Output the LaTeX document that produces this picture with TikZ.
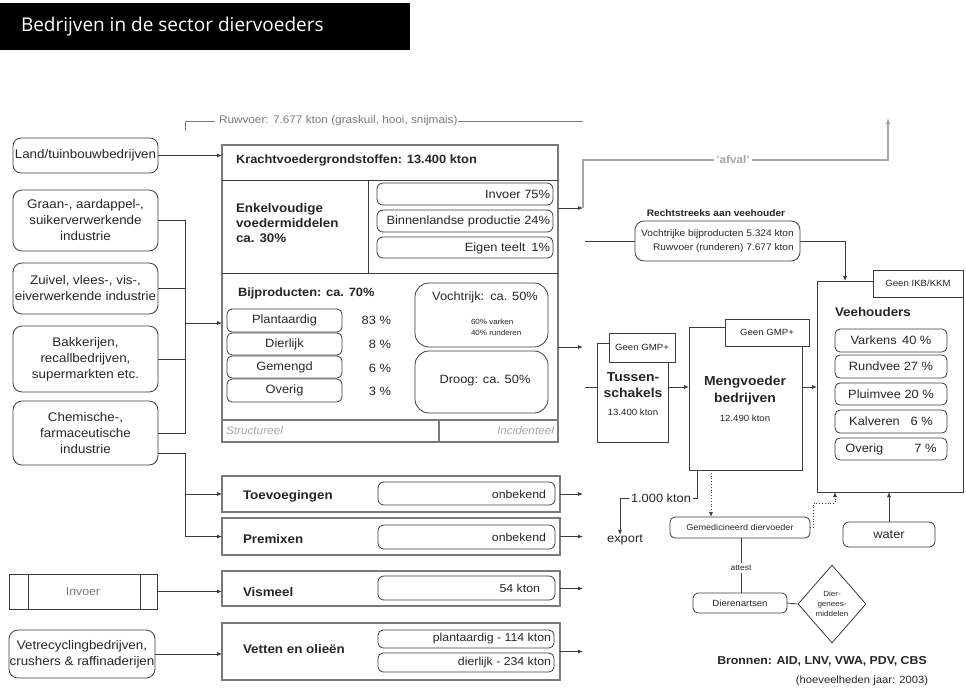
\documentclass[tikz,border=0pt]{standalone}
\usepackage{fontspec}
\setmainfont{Liberation Sans}[FakeStretch=1.07]
\newfontfamily\titlefont{Open Sans}
\usetikzlibrary{arrows.meta,shapes.geometric}
\newcommand\fs[2]{\fontsize{#1}{#2}\selectfont}
\newcommand\placebox[7]{\node[#2, minimum width={#5-#3}, minimum height={#6-#4}] (#1) at ({(#3+#5)/2},{(#4+#6)/2}) {#7};}
\definecolor{ln}{HTML}{3C3C3C}
\definecolor{tx}{HTML}{262626}
\definecolor{lg}{HTML}{A6A6A6}
\definecolor{mg}{HTML}{7A7A7A}
\begin{document}
\begin{tikzpicture}[x=1pt,y=-1pt,
  box/.style={draw=ln, line width=0.8pt, inner sep=0pt, outer sep=0pt, text=tx},
  rbox/.style={box, rounded corners=#1},
  rbox/.default=6pt,
  frame/.style={draw=mg, line width=1.4pt, inner sep=0pt, outer sep=0pt},
  lbl/.style={inner sep=0pt, outer sep=0pt, text=tx},
  con/.style={draw=ln, line width=0.8pt},
  arr/.style={con, -{Latex[length=5pt,width=4pt]}},
  lefttxt/.style={font=\fs{12.5}{16}, align=center},
]
\useasboundingbox (0,0) rectangle (966,689);
% title bar
\fill[black] (0,3) rectangle (410,50);
\node[lbl, text=white, anchor=west, font=\titlefont\fs{19}{22}] (title) at (21,27) {Bedrijven in de sector diervoeders};

% left column
\placebox{land}{rbox=8pt, lefttxt}{13}{138}{158}{173}{Land/tuinbouwbedrijven}
\placebox{graan}{rbox=9pt, lefttxt}{13}{190}{158}{251}{Graan-, aardappel-,\\suikerverwerkende\\industrie}
\placebox{zuivel}{rbox=9pt, lefttxt}{13}{263}{158}{314}{Zuivel, vlees-, vis-,\\eiverwerkende industrie}
\placebox{bakker}{rbox=9pt, lefttxt}{13}{326}{158}{392}{Bakkerijen,\\recallbedrijven,\\supermarkten etc.}
\placebox{chem}{rbox=9pt, lefttxt}{13}{401}{158}{465}{Chemische-,\\farmaceutische\\industrie}
\placebox{invoer}{box, font=\fs{11.5}{13}, text=mg}{9}{574}{157}{609}{Invoer}
\draw[con] (28,574) -- (28,609) (140,574) -- (140,609);
\placebox{vetrec}{rbox=9pt, lefttxt}{9}{630}{155}{678}{Vetrecyclingbedrijven,\\crushers \& raffinaderijen}

% Ruwvoer line
\node[lbl, anchor=west, text=mg, font=\fs{11}{13}] (ruw) at (219,121) {Ruwvoer: 7.677 kton (graskuil, hooi, snijmais)};
\coordinate (ruwL) at (185,131);
\coordinate (ruwR) at (583,121);
\draw[con, draw=mg] (ruwL) |- ([xshift=-4pt]ruw.west);
\draw[con, draw=mg] (ruw.east) -- (ruwR);

% Krachtvoeder big box
\placebox{kracht}{frame}{222}{145}{558}{442}{}
\draw[con] (222,180) -- (558,180);
\draw[con] (368,180) -- (368,273);
\draw[con] (222,273) -- (558,273);
\draw[draw=mg, line width=1.3pt] (222,420) -- (558,420);
\draw[draw=mg, line width=1.3pt] (439,420) -- (439,442);
\node[lbl, anchor=west, font=\bfseries\fs{12}{14}] (krt) at (236,160) {Krachtvoedergrondstoffen: 13.400 kton};
\node[lbl, anchor=west, align=left, font=\bfseries\fs{12.5}{15}] (enk) at (236,223) {Enkelvoudige\\voedermiddelen\\ca. 30\%};
\placebox{inv}{rbox}{377}{183}{553}{205}{}
\placebox{binn}{rbox}{377}{210}{553}{232}{}
\placebox{eigen}{rbox}{377}{237}{553}{258}{}
\node[lbl, anchor=east, font=\fs{12}{14}] (invt) at (550,194) {Invoer 75\%};
\node[lbl, anchor=east, font=\fs{12}{14}] (binnt) at (550,221) {Binnenlandse productie 24\%};
\node[lbl, anchor=east, font=\fs{12}{14}] (eigent) at (550,248) {Eigen teelt\hspace{0.5em}1\%};

\node[lbl, anchor=west, font=\bfseries\fs{12}{14}] (bijp) at (238,293) {Bijproducten: ca. 70\%};
\placebox{plant}{rbox=5pt, font=\fs{12}{14}}{227}{309}{342}{332}{Plantaardig}
\placebox{dierl}{rbox=5pt, font=\fs{12}{14}}{227}{333}{342}{355}{Dierlijk}
\placebox{gemen}{rbox=5pt, font=\fs{12}{14}}{227}{356}{342}{378}{Gemengd}
\placebox{overg}{rbox=5pt, font=\fs{12}{14}}{227}{379}{342}{402}{Overig}
\node[lbl, anchor=east, font=\fs{12}{14}] (p1) at (391,320) {83 \%};
\node[lbl, anchor=east, font=\fs{12}{14}] (p2) at (391,344) {8 \%};
\node[lbl, anchor=east, font=\fs{12}{14}] (p3) at (391,368) {6 \%};
\node[lbl, anchor=east, font=\fs{12}{14}] (p4) at (391,391) {3 \%};
\placebox{vocht}{rbox=14pt}{415}{283}{548}{347}{}
\node[lbl, font=\fs{12}{14}] (vochtt) at (485,297) {Vochtrijk:\hspace{0.5em}ca. 50\%};
\node[lbl, anchor=west, align=left, font=\fs{7.5}{11}] (vochtd) at (471,327) {60\% varken\\40\% runderen};
\placebox{droog}{rbox=14pt}{415}{351}{548}{413}{}
\node[lbl, font=\fs{12}{14}] (droogt) at (485,381) {Droog: ca. 50\%};
\node[lbl, anchor=west, text=lg, font=\itshape\fs{11}{13}] (struct) at (226,431) {Structureel};
\node[lbl, anchor=east, text=lg, font=\itshape\fs{11}{13}] (incid) at (554,431) {Incidenteel};

% bottom boxes
\placebox{toev}{frame}{222}{476}{560}{512}{}
\placebox{premix}{frame}{222}{518}{560}{555}{}
\placebox{vism}{frame}{222}{571}{560}{606}{}
\placebox{vetten}{frame}{222}{623}{560}{680}{}
\node[lbl, anchor=west, font=\bfseries\fs{12.5}{14}] (toevt) at (243,496) {Toevoegingen};
\node[lbl, anchor=west, font=\bfseries\fs{12.5}{14}] (premixt) at (243,539) {Premixen};
\node[lbl, anchor=west, font=\bfseries\fs{12.5}{14}] (vismt) at (243,592) {Vismeel};
\node[lbl, anchor=west, font=\bfseries\fs{12.5}{14}] (vettent) at (243,649) {Vetten en olieën};
\placebox{onb1}{rbox}{378}{482}{555}{505}{}
\placebox{onb2}{rbox}{378}{525}{555}{549}{}
\placebox{kt54}{rbox}{378}{576}{555}{600}{}
\placebox{pl114}{rbox=5pt}{378}{630}{554}{648}{}
\placebox{di234}{rbox=5pt}{378}{653}{554}{672}{}
\node[lbl, anchor=east, font=\fs{11.5}{13}] (onb1t) at (546,494) {onbekend};
\node[lbl, anchor=east, font=\fs{11.5}{13}] (onb2t) at (546,537) {onbekend};
\node[lbl, anchor=east, font=\fs{11.5}{13}] (kt54t) at (540,588) {54 kton};
\node[lbl, anchor=east, font=\fs{11.5}{13}] (pl114t) at (551,639) {plantaardig - 114 kton};
\node[lbl, anchor=east, font=\fs{11.5}{13}] (di234t) at (551,662.5) {dierlijk - 234 kton};

% tussenschakels, mengvoeder
\placebox{tus}{box}{597}{343}{668}{442}{}
\placebox{gmp1}{box, fill=white, font=\fs{9}{11}}{609}{333}{675}{362}{Geen GMP+}
\node[lbl, align=center, font=\bfseries\fs{13}{16}] (tust) at (633,385) {Tussen-\\schakels};
\node[lbl, font=\fs{9}{11}] (tuskt) at (633,412) {13.400 kton};
\placebox{meng}{box}{689}{327}{802}{470}{}
\placebox{gmp2}{box, fill=white, font=\fs{9}{11}}{725}{319}{809}{346}{Geen GMP+}
\node[lbl, align=center, font=\bfseries\fs{13}{17}] (mengt) at (745,391) {Mengvoeder\\bedrijven};
\node[lbl, font=\fs{9}{11}] (mengkt) at (745,418) {12.490 kton};

% veehouders
\placebox{veeh}{box}{817}{281}{963}{492}{}
\placebox{ikb}{box, fill=white, font=\fs{9}{11}}{873}{270}{963}{297}{Geen IKB/KKM}
\node[lbl, anchor=west, font=\bfseries\fs{12.5}{14}] (veeht) at (835,312) {Veehouders};
\placebox{vark}{rbox=5pt, font=\fs{12}{14}}{835}{329}{947}{352}{Varkens\hspace{0.45em}40 \%}
\placebox{rund}{rbox=5pt, font=\fs{12}{14}}{835}{355}{947}{378}{Rundvee 27 \%}
\placebox{pluim}{rbox=5pt, font=\fs{12}{14}}{835}{383}{947}{405}{Pluimvee 20 \%}
\placebox{kalv}{rbox=5pt, font=\fs{12}{14}}{835}{410}{947}{433}{Kalveren\hspace{0.9em}6 \%}
\placebox{ovrg}{rbox=5pt, font=\fs{12}{14}}{835}{438}{947}{460}{Overig\hspace{2.6em}7 \%}

% rechtstreeks
\node[lbl, font=\bfseries\fs{9.5}{11}] (rtitle) at (716,213) {Rechtstreeks aan veehouder};
\placebox{rstr}{rbox=9pt, align=right, font=\fs{9.5}{14}}{635}{221}{800}{261}{Vochtrijke bijproducten 5.324 kton\\Ruwvoer (runderen) 7.677 kton}

% lower right
\node[lbl, font=\fs{12}{14}] (kton) at (661,498) {1.000 kton};
\node[lbl, font=\fs{12}{14}] (export) at (625,540) {export};
\placebox{gem}{rbox=5pt, font=\fs{8.5}{10}}{670}{517}{810}{538}{Gemedicineerd diervoeder}
\placebox{water}{rbox=6pt, font=\fs{12}{14}}{843}{522}{935}{547}{water}
\placebox{dier}{rbox=5pt, font=\fs{9}{11}}{693}{593}{787}{613}{Dierenartsen}
\node[draw=ln, line width=0.8pt, diamond, minimum width=68pt, minimum height=78pt, inner sep=0pt] (dgm) at (832,604) {};
\node[lbl, align=center, font=\fs{7.5}{10}] (dgmt) at (832,604) {Dier-\\genees-\\middelen};
\node[lbl, font=\bfseries\fs{11.5}{13}] (bron) at (822,661) {Bronnen: AID, LNV, VWA, PDV, CBS};
\node[lbl, font=\fs{10.5}{12}] (hoev) at (862,681) {(hoeveelheden jaar: 2003)};

% ---------- connectors ----------
\coordinate (busT) at (185,220.5);
\coordinate (busB) at (185,433);
\coordinate (busM) at (185,323);
\draw[arr] (land.east) -- (land.east -| kracht.west);
\draw[con] (graan.east) -- (busT) -- (busB) -- (chem.east);
\draw[con] (zuivel.east) -- (zuivel.east -| busT);
\draw[con] (bakker.east) -- (bakker.east -| busT);
\draw[arr] (busM) -- (busM -| kracht.west);
\coordinate (chemOut) at (158,453);
\coordinate (bus2) at (185,453);
\draw[con] (chemOut) -- (bus2) -- (bus2 |- premix.west);
\draw[arr] (bus2 |- toev.west) -- (toev.west);
\draw[arr] (bus2 |- premix.west) -- (premix.west);
\draw[arr] (invoer.east) -- (invoer.east -| vism.west);
\draw[arr] (vetrec.east) -- (vetrec.east -| vetten.west);

\coordinate (afS) at (583,208);
\coordinate (afE) at (888,118);
\coordinate (kOut2) at (583,347);
\draw[arr] (afS -| kracht.east) -- (afS);
\draw[arr] (kOut2 -| kracht.east) -- (kOut2);
\draw[draw=lg, line width=1.4pt, -{Latex[length=6pt,width=5pt]}] (afS) -- (583,160) -- (888,160) -- (afE);
\node[lbl, fill=white, inner xsep=2pt, text=lg, font=\bfseries\fs{11}{13}] (afval) at (733,160) {'afval'};

\coordinate (oX) at (583,0);
\draw[arr] (toev.east) -- (toev.east -| oX);
\draw[arr] (premix.east) -- (premix.east -| oX);
\draw[arr] (vism.east) -- (vism.east -| oX);
\draw[arr] (vetten.east) -- (vetten.east -| oX);

\coordinate (rsL) at (585,241);
\coordinate (rsX) at (845,0);
\draw[con] (rsL) -- (rsL -| rstr.west);
\draw[arr] (rstr.east) -| (rsX |- veeh.north);

\coordinate (tusL) at (585,387);
\draw[con] (tusL) -- (tusL -| tus.west);
\draw[arr] (tus.east |- tusL) -- (meng.west |- tusL);
\draw[arr] (meng.east |- tusL) -- (veeh.west |- tusL);

\coordinate (mx) at (697,0);
\draw[con] (mx |- meng.south) |- ([xshift=2pt]kton.east);
\draw[arr] ([xshift=-2pt]kton.west) -| ([xshift=-5pt]export.north);

\coordinate (gx) at (711,0);
\draw[arr, dotted] (gx |- meng.south) -- (gx |- gem.north);
\coordinate (gv) at (835,503);
\draw[arr, dotted] (gem.east) -- ++(3,0) |- (gv) -- (gv |- veeh.south);
\draw[arr] (water.north) -- (water.north |- veeh.south);

\coordinate (ax) at (741,0);
\draw[con] (ax |- gem.south) -- (ax |- dier.north);
\node[lbl, fill=white, inner ysep=2pt, font=\fs{8}{10}] (attest) at (741,568) {attest};
\draw[con] (dier.east) -- (dgm.west);
\end{tikzpicture}
\end{document}
